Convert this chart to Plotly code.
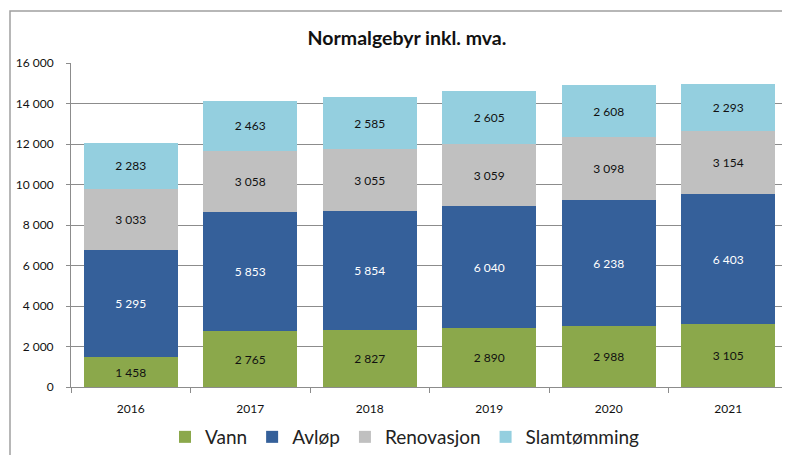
import plotly.graph_objects as go

years = ["2016", "2017", "2018", "2019", "2020", "2021"]
vann = [1458, 2765, 2827, 2890, 2988, 3105]
avlop = [5295, 5853, 5854, 6040, 6238, 6403]
renovasjon = [3033, 3058, 3055, 3059, 3098, 3154]
slam = [2283, 2463, 2585, 2605, 2608, 2293]

series = [
    ("Vann", vann, "#8BA84B", "#111111"),
    ("Avløp", avlop, "#35609A", "#ffffff"),
    ("Renovasjon", renovasjon, "#C0C0C0", "#111111"),
    ("Slamtømming", slam, "#94CFDF", "#111111"),
]

W, H = 782, 447
L, R, T, B = 63, 2, 55, 68
PW, PH = W - L - R, H - T - B

fig = go.Figure()
for name, vals, col, tcol in series:
    fig.add_trace(go.Bar(
        x=years, y=vals, name=name, marker=dict(color=col, line=dict(width=0)),
        texttemplate="%{y:,}", textposition="inside", insidetextanchor="middle",
        textfont=dict(color=tcol, size=12, family="Lato"), textangle=0,
    ))

fig.update_layout(
    barmode="stack", bargap=0.21,
    width=W, height=H,
    separators=", ",
    paper_bgcolor="white", plot_bgcolor="white",
    margin=dict(l=L, r=R, t=T, b=B, autoexpand=False),
    font=dict(family="Lato", color="#111111", size=11),
    title=dict(text="<b>Normalgebyr inkl. mva.</b>", x=399 / W, xanchor="center", xref="container",
               y=1 - 30 / H, yanchor="middle", font=dict(size=19.5, family="Lato", color="#111")),
    uniformtext=dict(minsize=8, mode="show"),
    legend=dict(orientation="h", x=(397 - L) / PW, xanchor="center", xref="paper",
                y=(H - B - 429) / PH, yanchor="middle", font=dict(size=19, family="Lato", color="#222"),
                itemwidth=30, traceorder="normal"),
    showlegend=True,
)
fig.update_yaxes(range=[0, 16000], dtick=2000, tickformat=",", showgrid=True, gridcolor="#8c8c8c",
                 gridwidth=1, ticks="outside", ticklen=4, tickcolor="#8c8c8c",
                 showline=True, linecolor="#8c8c8c", zeroline=False, ticklabelstandoff=10,
                 tickfont=dict(size=12, family="Lato", color="#111111"))
fig.update_xaxes(showline=True, linecolor="#8c8c8c", ticks="outside", tickson="boundaries",
                 ticklen=5, tickcolor="#8c8c8c", ticklabelstandoff=11,
                 tickfont=dict(size=12, family="Lato", color="#111111"))

fig.add_shape(type="rect", xref="paper", yref="paper",
              x0=(2 - L) / PW, x1=(W + 20 - L) / PW,
              y0=(H - B - (H + 20)) / PH, y1=(H - B - 3) / PH,
              line=dict(color="#a0a0a0", width=1.5), fillcolor="rgba(0,0,0,0)", layer="below")

fig.write_html("out.html")
